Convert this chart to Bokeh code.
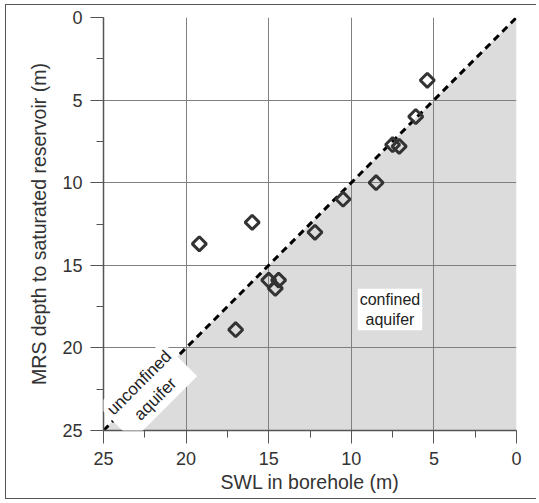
from bokeh.plotting import figure
from bokeh.models import Range1d, SingleIntervalTicker, Label
from bokeh.embed import file_html
from bokeh.resources import INLINE

# data
swl = [5.4, 6.1, 7.5, 7.1, 8.5, 10.5, 12.2, 16.0, 19.2, 15.0, 14.4, 14.6, 17.0]
mrs = [3.8, 6.0, 7.7, 7.8, 10.0, 11.0, 13.0, 12.4, 13.7, 15.9, 15.9, 16.4, 18.9]
line_x = [25, 0]
line_y = [25, 0]
shade_x = [0, 25, 0]
shade_y = [0, 25, 25]

FONT = "Liberation Sans"

p = figure(width=531, height=495, output_backend="svg", toolbar_location=None,
           x_range=Range1d(25, 0), y_range=Range1d(25, 0),
           min_border_left=97, min_border_right=21, min_border_top=12, min_border_bottom=70)
p.styles = {"margin-left": "5px", "margin-top": "4px",
            "border-left": "1px solid #555", "border-top": "1px solid #555",
            "border-bottom": "1px solid #555"}
p.outline_line_color = None
p.background_fill_color = "white"

sh = p.patch(shade_x, shade_y, fill_color="#dcdcdc", line_color=None)
sh.level = "image"

p.line(line_x, line_y, line_color="black", line_width=3, line_dash="7 5")
p.scatter(swl, mrs, marker="square", angle=0.785398, size=10,
          fill_color=None, line_color="#333333", line_width=3)

for ax in (p.xaxis[0], p.yaxis[0]):
    ax.ticker = SingleIntervalTicker(interval=5, num_minor_ticks=2)
    ax.major_tick_out = 13
    ax.major_tick_in = 0
    ax.minor_tick_out = 7
    ax.minor_tick_in = 0
    ax.axis_line_color = "#555555"
    ax.axis_line_width = 1.5
    ax.major_tick_line_color = "#555555"
    ax.minor_tick_line_color = "#555555"
    ax.major_label_text_font = FONT
    ax.major_label_text_font_size = "18px"
    ax.major_label_text_color = "#333333"
    ax.axis_label_text_font = FONT
    ax.axis_label_text_font_size = "19.5px"
    ax.axis_label_text_font_style = "normal"
    ax.axis_label_text_color = "#333333"

p.xaxis.axis_label = "SWL in borehole (m)"
p.yaxis.axis_label = "MRS depth to saturated reservoir (m)"
p.xaxis.major_label_standoff = 8
p.yaxis.major_label_standoff = 8
p.xaxis.axis_label_standoff = 3
p.yaxis.axis_label_standoff = 9

for g in (p.xgrid[0], p.ygrid[0]):
    g.ticker = SingleIntervalTicker(interval=5)
    g.grid_line_color = "#808080"
    g.grid_line_width = 1

p.add_layout(Label(x=22.35, y=22.6, text="unconfined\naquifer", angle=45, angle_units="deg",
                   text_align="center", text_baseline="middle", text_font=FONT,
                   text_font_size="17px", text_color="#222222",
                   background_fill_color="white", padding=4))
p.add_layout(Label(x=7.66, y=17.68, text="confined\naquifer",
                   text_align="center", text_baseline="middle", text_font=FONT,
                   text_font_size="16px", text_color="#222222",
                   background_fill_color="white", padding=2))

open("out.html", "w").write(file_html(p, INLINE))
